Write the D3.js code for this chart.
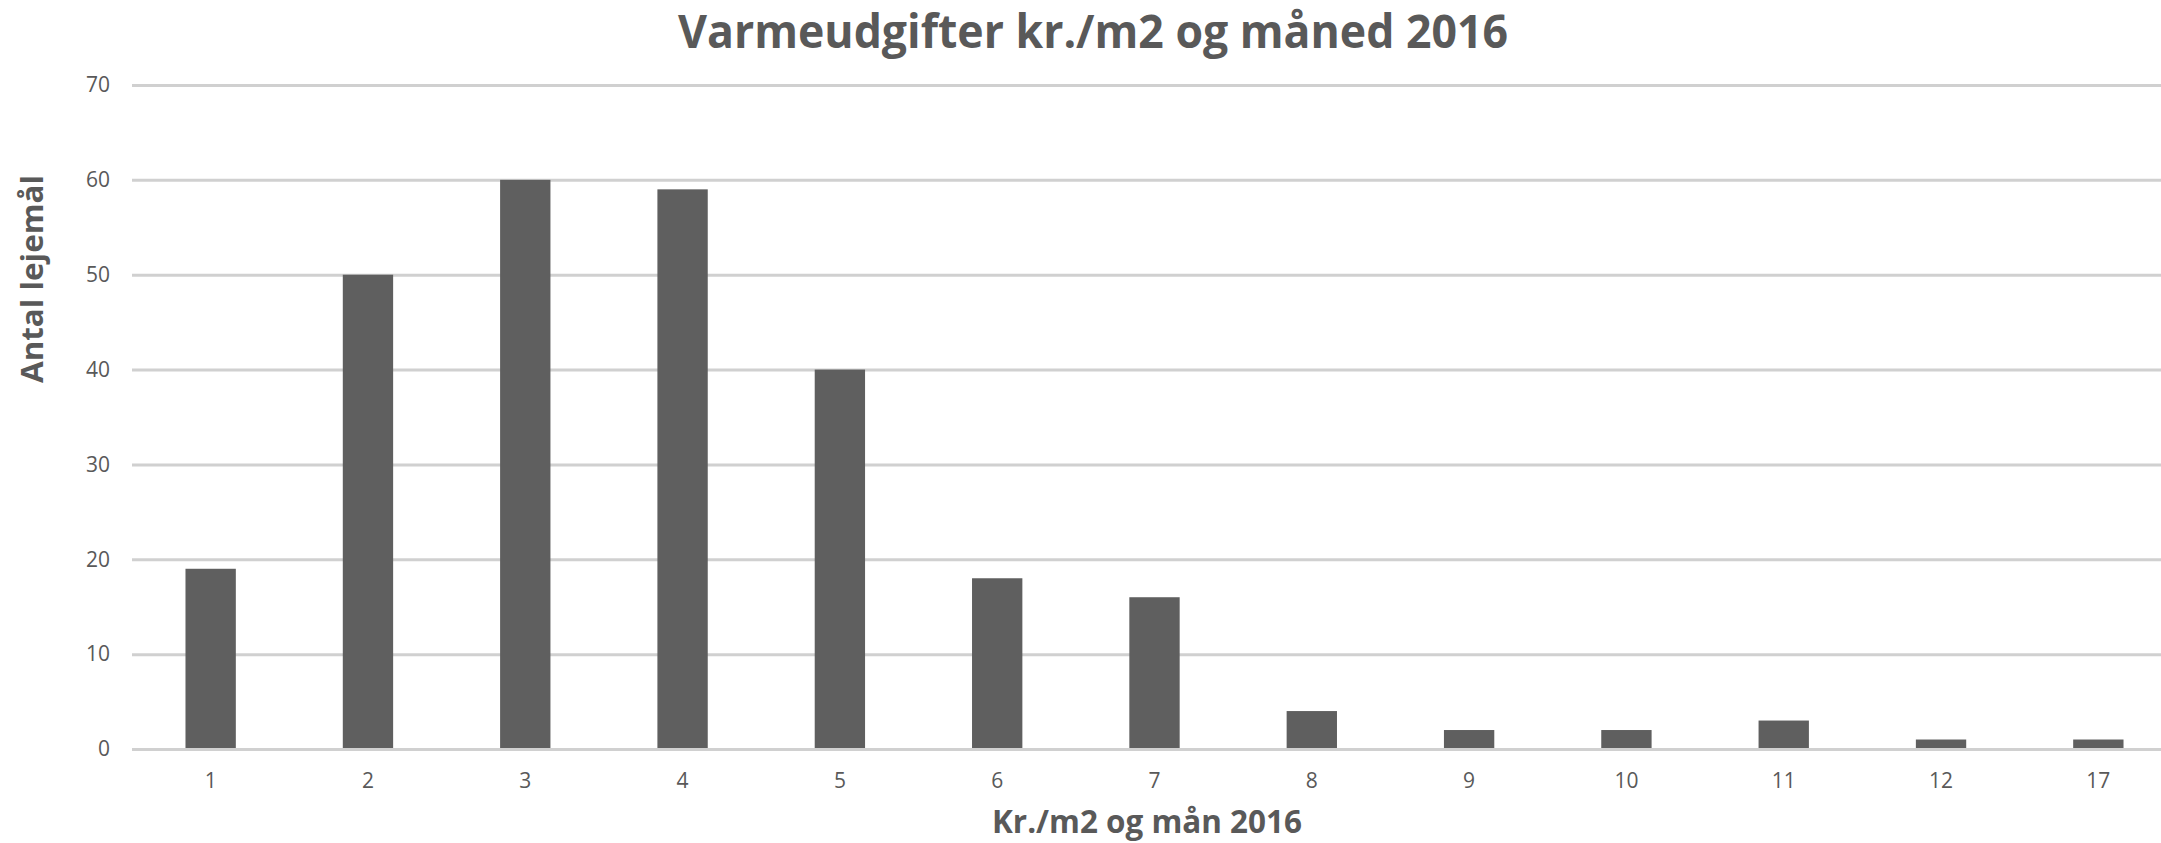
<!DOCTYPE html>
<html>
<head>
<meta charset="utf-8">
<script src="https://cdn.jsdelivr.net/npm/d3@7"></script>
<style>
  html, body { margin: 0; padding: 0; background: #fff; overflow: hidden; }
  svg { display: block; font-family: "Open Sans", sans-serif; }
</style>
</head>
<body>
<div id="chart"></div>
<script>
// kr./m2 bucket and count of leases in each
const categories = ["1", "2", "3", "4", "5", "6", "7", "8", "9", "10", "11", "12", "17"];
const counts = [19, 50, 60, 59, 40, 18, 16, 4, 2, 2, 3, 1, 1];
const yTicks = [0, 10, 20, 30, 40, 50, 60, 70];

const W = 2161, H = 843;
const M = { left: 132, right: -16, top: 85, bottom: 94 };
const TEXT = "#595959";

const svg = d3.select("#chart")
  .append("svg")
  .attr("width", W)
  .attr("height", H);

const x = d3.scaleBand()
  .domain(categories)
  .range([M.left, W - M.right])
  .paddingInner(0.68)
  .paddingOuter(0.34);

const y = d3.scaleLinear()
  .domain([0, 70])
  .range([H - M.bottom, M.top]);

// ─── gridlines + y labels ─────────────────────────────────────────────
const yAxis = svg.append("g")
  .attr("transform", `translate(${M.left},0)`)
  .call(
    d3.axisLeft(y)
      .tickValues(yTicks)
      .tickSize(-(W - M.left - M.right))
      .tickPadding(22),
  );
yAxis.select(".domain").remove();
yAxis.selectAll(".tick line")
  .attr("stroke", "#d0d0d0")
  .attr("stroke-width", 3);
yAxis.selectAll(".tick text")
  .attr("fill", TEXT)
  .attr("font-size", 21)
  .attr("font-family", "Open Sans, sans-serif");

// ─── bars ─────────────────────────────────────────────────────────────
svg.append("g")
  .selectAll("rect")
  .data(categories.map((c, i) => ({ c, v: counts[i] })))
  .join("rect")
  .attr("x", (d) => x(d.c))
  .attr("y", (d) => y(d.v))
  .attr("width", x.bandwidth())
  .attr("height", (d) => y(0) - y(d.v) - 1)
  .attr("fill", "#5f5f5f");

// ─── x labels ─────────────────────────────────────────────────────────
const xAxis = svg.append("g")
  .attr("transform", `translate(0,${y(0)})`)
  .call(d3.axisBottom(x).tickSize(0).tickPadding(24));
xAxis.select(".domain").remove();
xAxis.selectAll(".tick text")
  .attr("fill", TEXT)
  .attr("font-size", 21)
  .attr("font-family", "Open Sans, sans-serif");

// ─── titles ───────────────────────────────────────────────────────────
svg.append("text")
  .attr("x", 678)
  .attr("y", 48)
  .attr("font-size", 46)
  .attr("font-weight", 700)
  .attr("fill", TEXT)
  .attr("textLength", 830)
  .attr("lengthAdjust", "spacingAndGlyphs")
  .text("Varmeudgifter kr./m2 og måned 2016");

svg.append("text")
  .attr("x", 992)
  .attr("y", 833)
  .attr("font-size", 32)
  .attr("font-weight", 700)
  .attr("fill", TEXT)
  .attr("textLength", 310)
  .attr("lengthAdjust", "spacingAndGlyphs")
  .text("Kr./m2 og mån 2016");

svg.append("text")
  .attr("transform", "translate(43,383) rotate(-90)")
  .attr("font-size", 30)
  .attr("font-weight", 700)
  .attr("fill", TEXT)
  .attr("textLength", 208)
  .attr("lengthAdjust", "spacingAndGlyphs")
  .text("Antal lejemål");
</script>
</body>
</html>
